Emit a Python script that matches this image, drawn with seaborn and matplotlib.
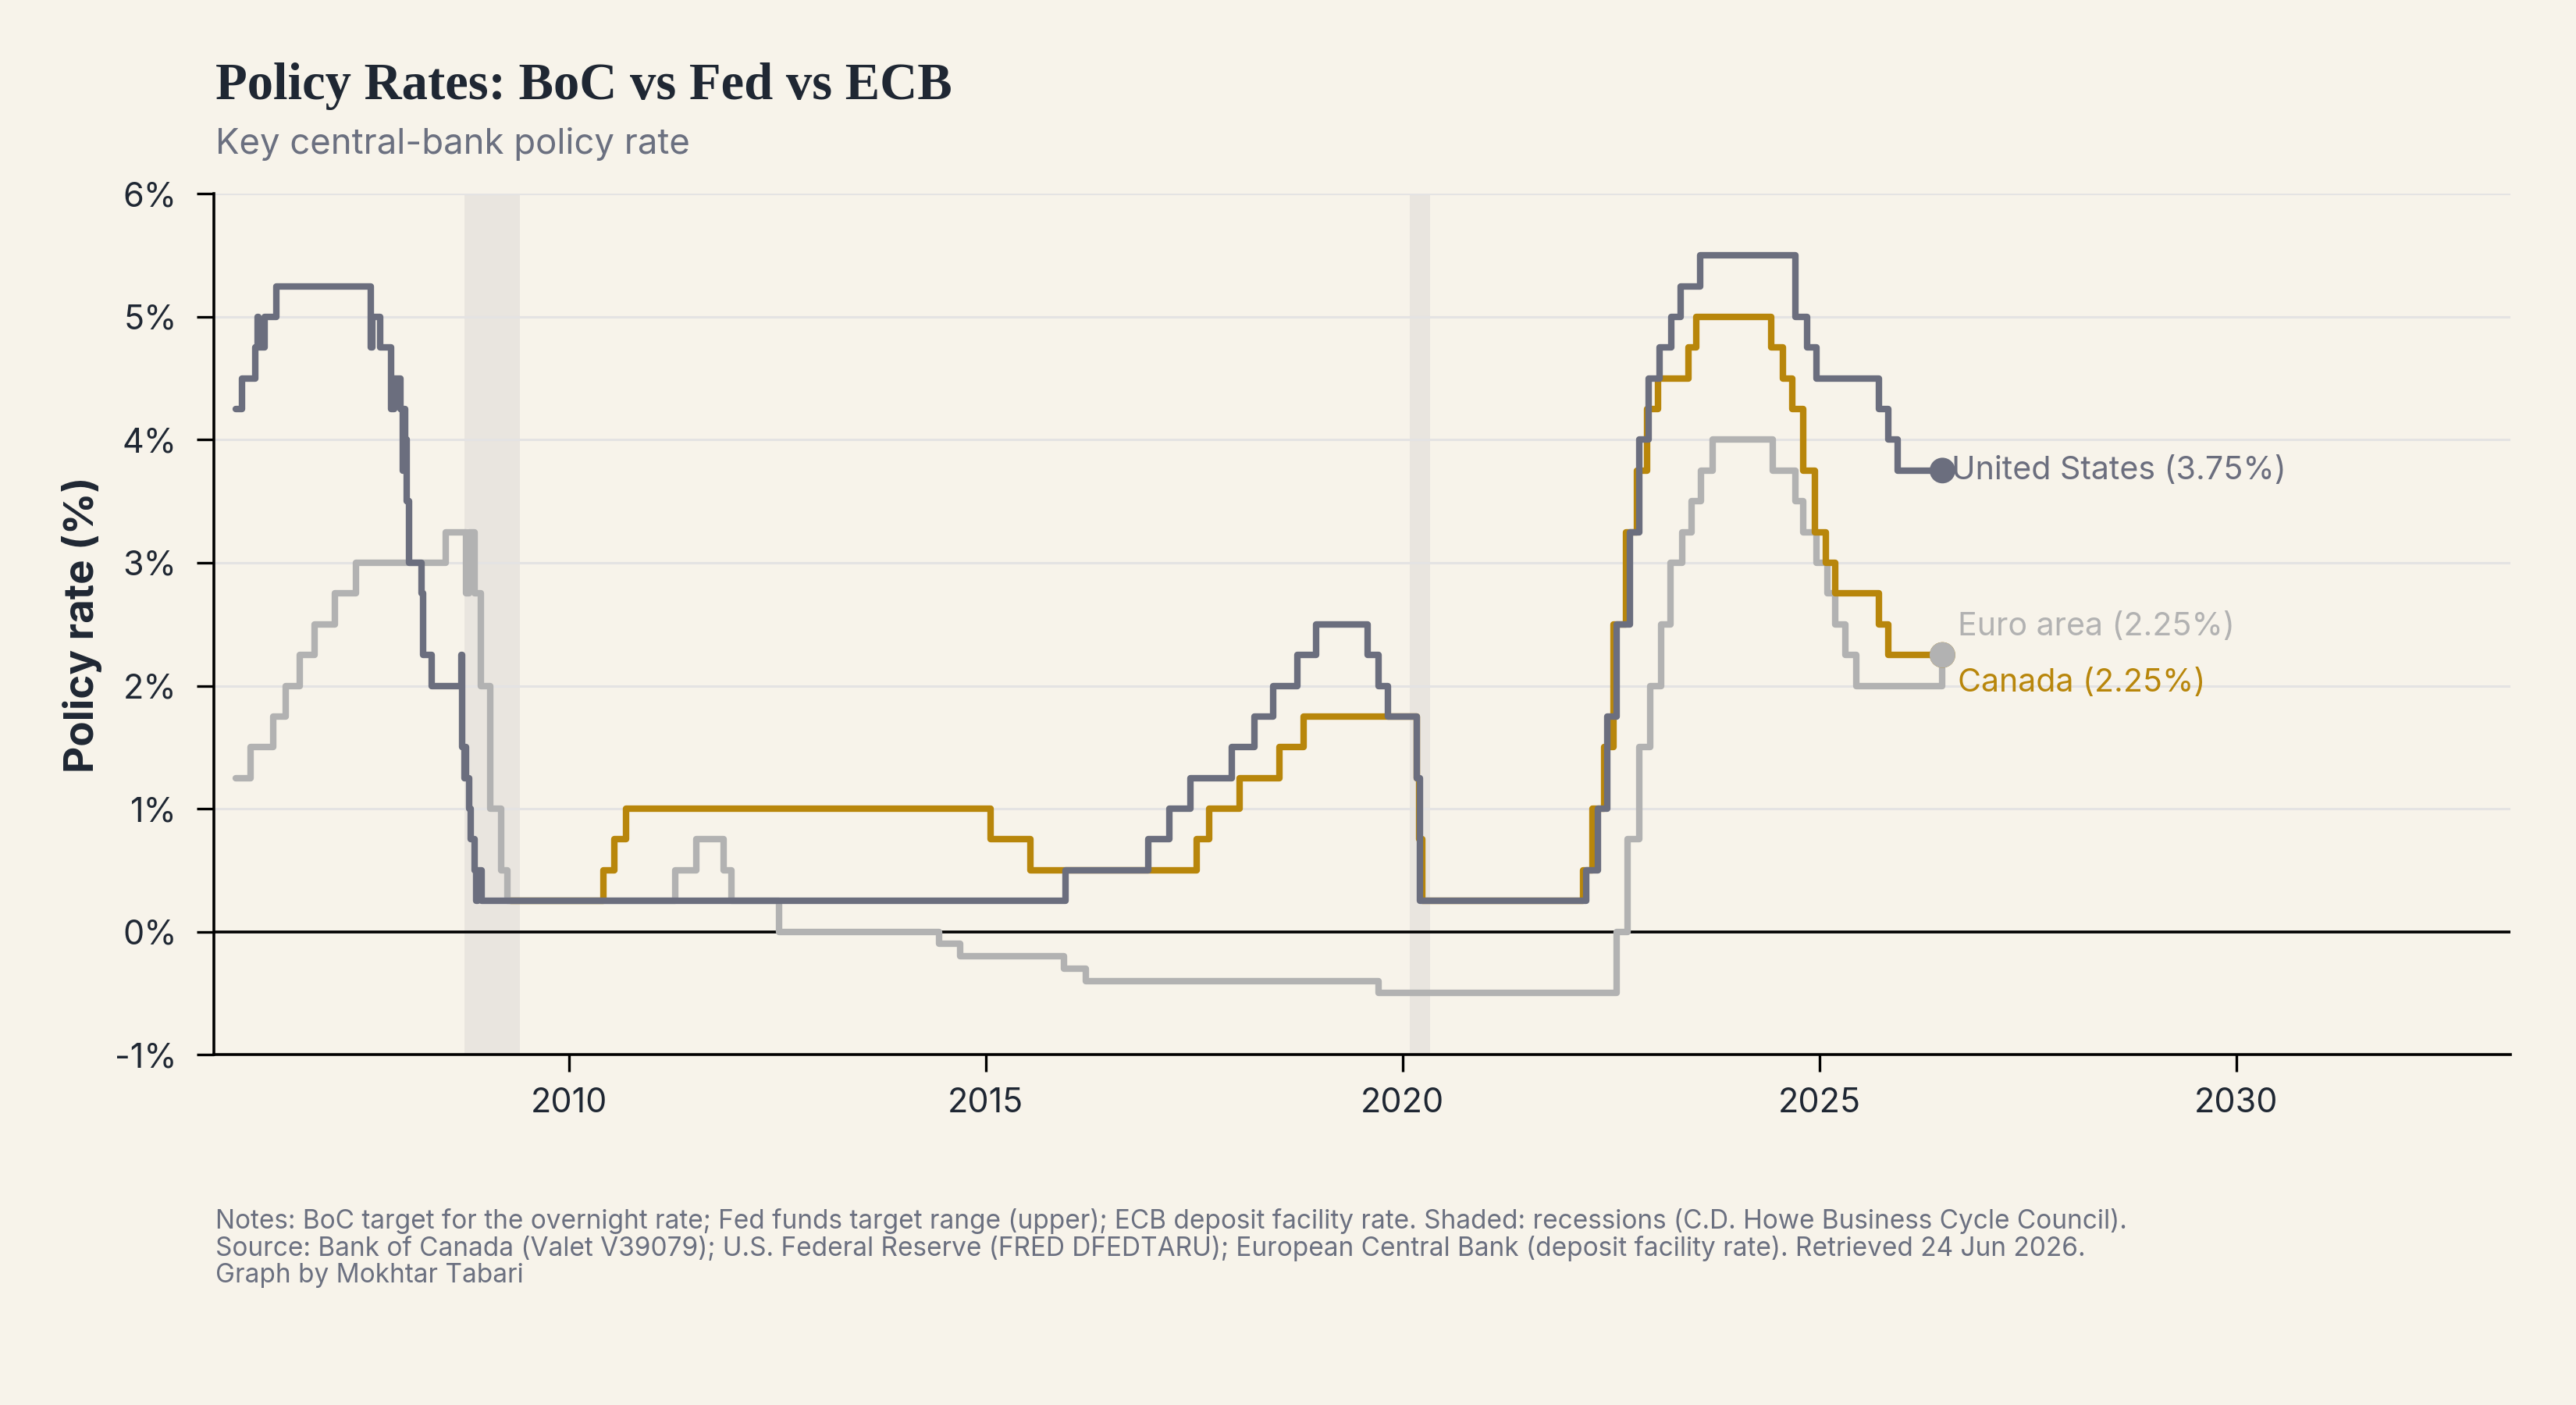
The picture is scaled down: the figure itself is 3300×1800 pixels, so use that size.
import matplotlib
matplotlib.use("Agg")
import matplotlib.pyplot as plt
import matplotlib.dates as mdates
from matplotlib.ticker import FuncFormatter, FixedLocator
import seaborn as sns
import pandas as pd

# ---------------- DATA ----------------
us_dates = ["2006-01-01", "2006-01-31", "2006-03-28", "2006-04-07", "2006-04-10", "2006-05-10",
            "2006-06-29", "2007-08-17", "2007-08-24", "2007-09-28", "2007-11-14", "2007-11-29",
            "2007-12-26", "2008-01-03", "2008-01-08", "2008-01-14", "2008-01-18", "2008-01-22",
            "2008-01-30", "2008-03-27", "2008-04-01", "2008-05-10", "2008-09-16", "2008-09-19",
            "2008-09-29", "2008-10-03", "2008-10-07", "2008-10-20", "2008-10-29", "2008-11-12",
            "2008-11-20", "2008-11-28", "2008-12-16", "2015-12-17", "2016-12-15", "2017-03-16",
            "2017-06-15", "2017-12-14", "2018-03-22", "2018-06-14", "2018-09-27", "2018-12-20",
            "2019-08-01", "2019-09-19", "2019-10-31", "2020-03-04", "2020-03-16", "2022-03-17",
            "2022-05-05", "2022-06-16", "2022-07-28", "2022-09-22", "2022-11-03", "2022-12-15",
            "2023-02-02", "2023-03-23", "2023-05-04", "2023-07-27", "2024-09-19", "2024-11-08",
            "2024-12-19", "2025-09-18", "2025-10-30", "2025-12-11", "2026-06-24"]
us_rates = [4.25, 4.50, 4.75, 5.00, 4.75, 5.00,
            5.25, 4.75, 5.00, 4.75, 4.25, 4.50,
            4.25, 3.75, 4.25, 3.75, 4.00, 3.50,
            3.00, 2.75, 2.25, 2.00, 2.25, 1.50,
            1.25, 1.50, 1.25, 1.00, 0.75, 0.50,
            0.25, 0.50, 0.25, 0.50, 0.75, 1.00,
            1.25, 1.50, 1.75, 2.00, 2.25, 2.50,
            2.25, 2.00, 1.75, 1.25, 0.25, 0.50,
            1.00, 1.75, 2.50, 3.25, 4.00, 4.50,
            4.75, 5.00, 5.25, 5.50, 5.00, 4.75,
            4.50, 4.25, 4.00, 3.75, 3.75]

ca_dates = ["2009-04-21", "2010-06-01", "2010-07-20", "2010-09-08", "2015-01-21", "2015-07-15",
            "2017-07-12", "2017-09-06", "2018-01-17", "2018-07-11", "2018-10-24", "2020-03-04",
            "2020-03-13", "2020-03-27", "2022-03-02", "2022-04-13", "2022-06-01", "2022-07-13",
            "2022-09-07", "2022-10-26", "2022-12-07", "2023-01-25", "2023-06-07", "2023-07-12",
            "2024-06-05", "2024-07-24", "2024-09-04", "2024-10-23", "2024-12-11", "2025-01-29",
            "2025-03-12", "2025-09-17", "2025-10-29", "2026-06-24"]
ca_rates = [0.25, 0.50, 0.75, 1.00, 0.75, 0.50,
            0.75, 1.00, 1.25, 1.50, 1.75, 1.25,
            0.75, 0.25, 0.50, 1.00, 1.50, 2.50,
            3.25, 3.75, 4.25, 4.50, 4.75, 5.00,
            4.75, 4.50, 4.25, 3.75, 3.25, 3.00,
            2.75, 2.50, 2.25, 2.25]

ez_dates = ["2006-01-01", "2006-03-08", "2006-06-15", "2006-08-09", "2006-10-11", "2006-12-13",
            "2007-03-14", "2007-06-13", "2008-07-09", "2008-10-08", "2008-10-22", "2008-11-12",
            "2008-12-10", "2009-01-21", "2009-03-11", "2009-04-08", "2011-04-13", "2011-07-13",
            "2011-11-09", "2011-12-14", "2012-07-11", "2014-06-11", "2014-09-10", "2015-12-09",
            "2016-03-16", "2019-09-18", "2022-07-27", "2022-09-14", "2022-11-02", "2022-12-21",
            "2023-02-08", "2023-03-22", "2023-05-10", "2023-06-21", "2023-08-02", "2023-09-20",
            "2024-06-12", "2024-09-18", "2024-10-23", "2024-12-18", "2025-02-05", "2025-03-12",
            "2025-04-23", "2025-06-11", "2026-06-24"]
ez_rates = [1.25, 1.50, 1.75, 2.00, 2.25, 2.50,
            2.75, 3.00, 3.25, 2.75, 3.25, 2.75,
            2.00, 1.00, 0.50, 0.25, 0.50, 0.75,
            0.50, 0.25, 0.00, -0.10, -0.20, -0.30,
            -0.40, -0.50, 0.00, 0.75, 1.50, 2.00,
            2.50, 3.00, 3.25, 3.50, 3.75, 4.00,
            3.75, 3.50, 3.25, 3.00, 2.75, 2.50,
            2.25, 2.00, 2.25]

series_names = ["Euro area", "Canada", "United States"]
recessions = [("2008-10-01", "2009-05-31"), ("2020-02-01", "2020-04-30")]
y_ticks = [-1, 0, 1, 2, 3, 4, 5, 6]

# ---------------- STYLE ----------------
BG = "#f7f3ea"
C_US = "#6b6e7e"
C_CA = "#b8860b"
C_EZ = "#b2b2b2"
DARK = "#1f2733"
GRAY = "#6b7080"
palette = {"United States": C_US, "Canada": C_CA, "Euro area": C_EZ}

sns.set_theme(style="white")
plt.rcParams["font.family"] = ["Inter", "DejaVu Sans"]

frames = []
for name, d, r in [("Euro area", ez_dates, ez_rates), ("Canada", ca_dates, ca_rates),
                   ("United States", us_dates, us_rates)]:
    frames.append(pd.DataFrame({"date": pd.to_datetime(d), "rate": r, "series": name}))
df = pd.concat(frames, ignore_index=True)

fig = plt.figure(figsize=(16.5, 9), dpi=200, facecolor=BG)
ax = fig.add_axes([0.083, 0.2494, 0.8915, 0.6126])
ax.set_facecolor(BG)

for a, b in recessions:
    ax.axvspan(pd.Timestamp(a), pd.Timestamp(b), color="#e9e5df", zorder=0.5, lw=0)

for yv in range(0, 7):
    ax.axhline(yv, color="#e4e3e3", lw=1.1, zorder=1)
ax.axhline(0, color="black", lw=1.3, zorder=2)

sns.lineplot(data=df, x="date", y="rate", hue="series", hue_order=series_names,
             palette=palette, estimator=None, sort=False, drawstyle="steps-post",
             linewidth=3.0, legend=False, ax=ax, zorder=3,
             solid_joinstyle="round", solid_capstyle="round")

last = df.groupby("series").tail(1).set_index("series").loc[["Canada", "Euro area", "United States"]].reset_index()
sns.scatterplot(data=last, x="date", y="rate", hue="series", palette=palette,
                s=140, edgecolor="none", legend=False, ax=ax, zorder=5)

# end labels
lab = {"United States": (4, 0), "Euro area": (7, 13), "Canada": (7, -13)}
for _, row in last.iterrows():
    dx, dy = lab[row["series"]]
    ax.annotate(f"{row['series']} ({row['rate']:.2f}%)", (row["date"], row["rate"]),
                xytext=(dx, dy), textcoords="offset points", ha="left", va="center",
                color=palette[row["series"]], fontsize=14.8, zorder=6)

ax.set_xlim(pd.Timestamp("2005-09-28"), pd.Timestamp("2033-04-16"))
ax.set_ylim(-1, 6)
ax.xaxis.set_major_locator(mdates.YearLocator(5))
ax.xaxis.set_major_formatter(mdates.DateFormatter("%Y"))
ax.yaxis.set_major_locator(FixedLocator(y_ticks))
ax.yaxis.set_major_formatter(FuncFormatter(lambda v, p: f"{v:.0f}%"))
ax.set_xlabel("")
ax.set_ylabel("")

for s in ["top", "right"]:
    ax.spines[s].set_visible(False)
for s in ["left", "bottom"]:
    ax.spines[s].set_color("black")
    ax.spines[s].set_linewidth(1.3)
    ax.spines[s].set_zorder(4)
ax.tick_params(axis="both", which="major", length=8, width=1.2, color="black",
               labelsize=15.5, labelcolor=DARK, direction="out")
ax.tick_params(axis="y", pad=9)
ax.tick_params(axis="x", pad=7)
ax.tick_params(left=True, bottom=True)

fig.text(0.0836, 1 - 127 / 1800, "Policy Rates: BoC vs Fed vs ECB", fontsize=24,
         fontweight="bold", family=["Liberation Serif", "DejaVu Serif"], color=DARK,
         ha="left", va="baseline")
fig.text(0.0836, 1 - 197 / 1800, "Key central-bank policy rate", fontsize=16.4,
         color=GRAY, ha="left", va="baseline")
fig.text(105 / 3300, 1 - 800 / 1800, "Policy rate (%)", fontsize=19, fontweight="bold",
         color=DARK, rotation=90, ha="center", va="center")

foot = ("Notes: BoC target for the overnight rate; Fed funds target range (upper); ECB deposit facility rate. "
        "Shaded: recessions (C.D. Howe Business Cycle Council).\n"
        "Source: Bank of Canada (Valet V39079); U.S. Federal Reserve (FRED DFEDTARU); "
        "European Central Bank (deposit facility rate). Retrieved 24 Jun 2026.\n"
        "Graph by Mokhtar Tabari")
fig.text(0.0836, 1 - 1548 / 1800, foot, fontsize=12, color=GRAY, ha="left", va="top",
         linespacing=1.08)

fig.savefig("out.png", dpi=200, facecolor=BG)
